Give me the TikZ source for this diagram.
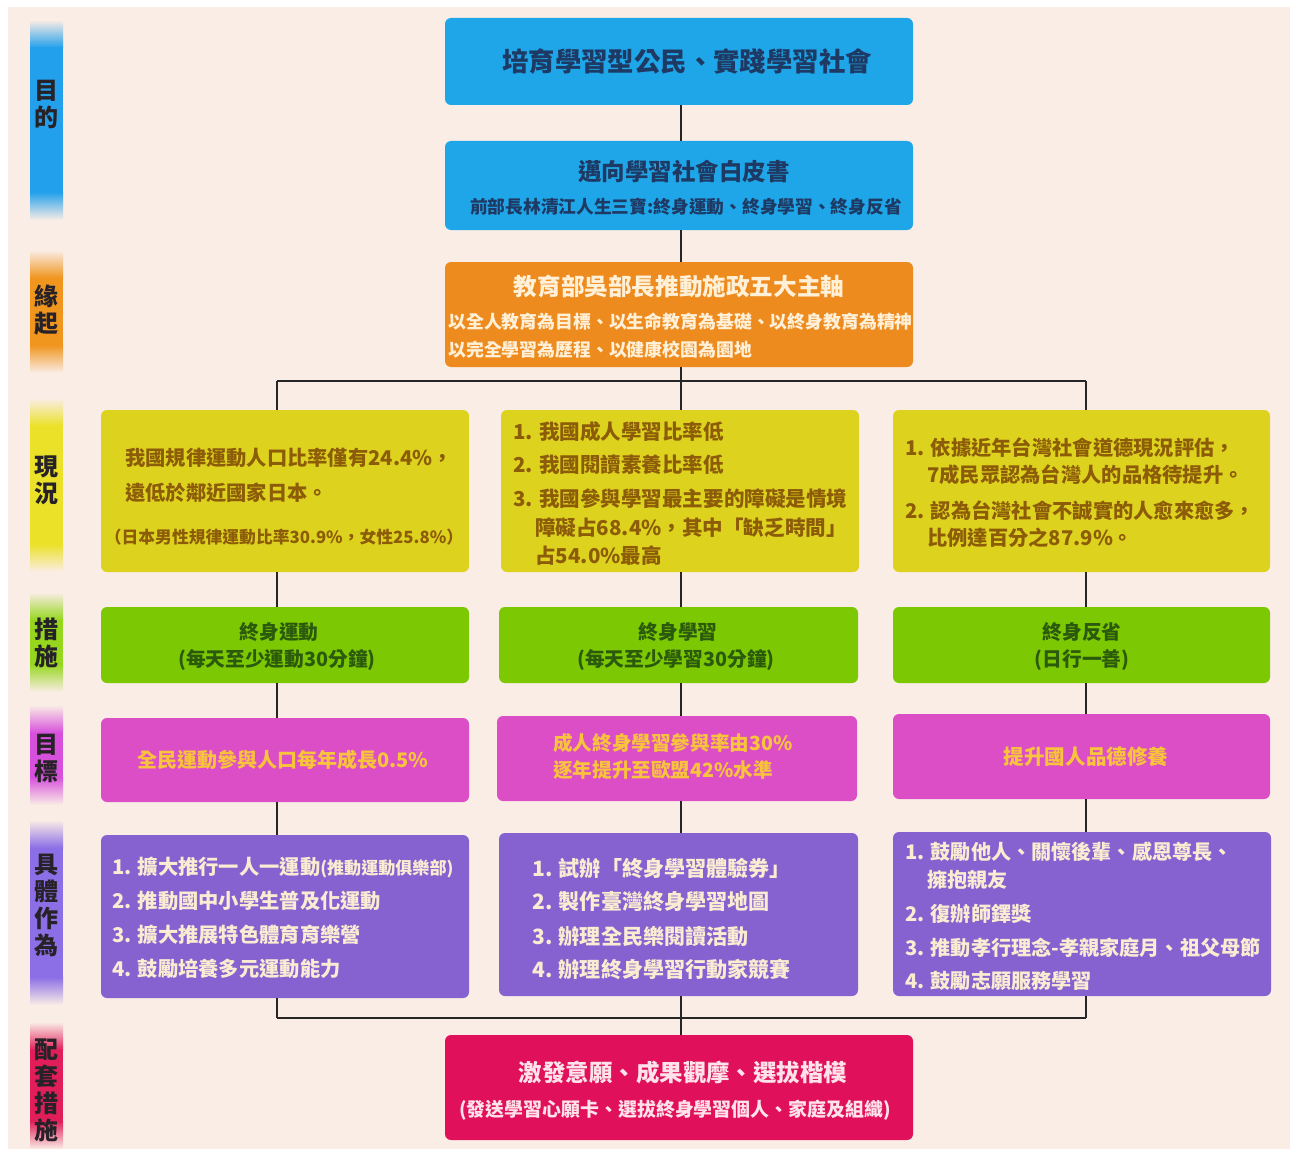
\documentclass[tikz,border=0pt]{standalone}
\usepackage{fontspec}
\setmainfont{Noto Sans CJK TC}
\usetikzlibrary{fit}
\definecolor{bg}{RGB}{250,237,230}
\definecolor{bluebox}{RGB}{30,166,232}
\definecolor{bluetxt}{RGB}{30,58,100}
\definecolor{orgbox}{RGB}{238,139,30}
\definecolor{orgtxt}{RGB}{255,240,215}
\definecolor{ylwbox}{RGB}{221,211,31}
\definecolor{ylwtxt}{RGB}{140,92,8}
\definecolor{grnbox}{RGB}{124,200,2}
\definecolor{grntxt}{RGB}{44,90,12}
\definecolor{magbox}{RGB}{220,78,198}
\definecolor{magtxt}{RGB}{248,196,60}
\definecolor{purbox}{RGB}{134,98,208}
\definecolor{purtxt}{RGB}{250,236,210}
\definecolor{redbox}{RGB}{224,16,90}
\definecolor{redtxt}{RGB}{255,226,234}
\definecolor{bandblue}{RGB}{35,160,235}
\definecolor{bandorg}{RGB}{240,150,30}
\definecolor{bandylw}{RGB}{235,225,40}
\definecolor{bandgrn}{RGB}{150,215,30}
\definecolor{bandmag}{RGB}{215,80,220}
\definecolor{bandpur}{RGB}{140,110,230}
\definecolor{bandred}{RGB}{225,30,90}
\definecolor{bandtxt}{RGB}{38,34,40}
\newcommand\fs[1]{\fontsize{#1pt}{\dimexpr #1pt*13/10\relax}\selectfont\bfseries}
\newcommand\myband[3]{%
  \shade[top color=bg,bottom color=#1] (30,#2) rectangle (63,{#2+28});
  \fill[#1] (30,{#2+27.5}) rectangle (63,{#3-27.5});
  \shade[top color=#1,bottom color=bg] (30,{#3-28}) rectangle (63,#3);}
\begin{document}
\begin{tikzpicture}[x=0.75pt,y=-0.75pt,
  box/.style={rectangle,rounded corners=4.5pt,inner sep=0pt,draw=none},
  conn/.style={line width=1.4pt,black!85},
  lw/.style={anchor=west,inner sep=0pt},
  ct/.style={anchor=center,inner sep=0pt},
  bt/.style={align=center,inner sep=0pt,text=bandtxt,font=\fontsize{18pt}{20.25pt}\selectfont\bfseries}]
\useasboundingbox (0,0) rectangle (1290,1149);
\fill[white] (0,0) rectangle (1290,1149);
\fill[bg] (8,7) rectangle (1290,1149);

% side bands
\myband{bandblue}{20}{220}
\myband{bandorg}{250}{373}
\myband{bandylw}{398}{572}
\myband{bandgrn}{592}{692}
\myband{bandmag}{705}{805}
\myband{bandpur}{820}{1005}
\myband{bandred}{1022}{1149}
\node[bt] (b1) at (47,104) {目\\的};
\node[bt] (b2) at (47,310) {緣\\起};
\node[bt] (b3) at (47,480) {現\\況};
\node[bt] (b4) at (47,643) {措\\施};
\node[bt] (b5) at (47,758) {目\\標};
\node[bt] (b6) at (47,905) {具\\體\\作\\為};
\node[bt] (b7) at (47,1090) {配\\套\\措\\施};

% boxes
\node[box,fill=bluebox,fit={(445,18) (913,105)}] (top) {};
\node[box,fill=bluebox,fit={(445,141) (913,230)}] (paper) {};
\node[box,fill=orgbox,fit={(445,262) (913,367)}] (org) {};
\node[box,fill=ylwbox,fit={(101,410) (469,572)}] (yl) {};
\node[box,fill=ylwbox,fit={(501,410) (859,572)}] (ym) {};
\node[box,fill=ylwbox,fit={(893,410) (1270,572)}] (yr) {};
\node[box,fill=grnbox,fit={(101,607) (469,683)}] (gl) {};
\node[box,fill=grnbox,fit={(499,607) (858,683)}] (gm) {};
\node[box,fill=grnbox,fit={(893,607) (1270,683)}] (gr) {};
\node[box,fill=magbox,fit={(101,718) (469,802)}] (ml) {};
\node[box,fill=magbox,fit={(497,716) (857,801)}] (mm) {};
\node[box,fill=magbox,fit={(893,714) (1270,799)}] (mr) {};
\node[box,fill=purbox,fit={(101,835) (469,998)}] (pl) {};
\node[box,fill=purbox,fit={(499,833) (858,996)}] (pm) {};
\node[box,fill=purbox,fit={(893,832) (1271,996)}] (pr) {};
\node[box,fill=redbox,fit={(445,1035) (913,1140)}] (red) {};

% junction coordinates
\coordinate (jtl) at (277,381);
\coordinate (jtm) at (681,381);
\coordinate (jtr) at (1086,381);
\coordinate (jbl) at (277,1018);
\coordinate (jbm) at (681,1018);
\coordinate (jbr) at (1086,1018);

% connectors
\draw[conn] (jtm |- top.south) -- (jtm |- paper.north);
\draw[conn] (jtm |- paper.south) -- (jtm |- org.north);
\draw[conn] (jtm |- org.south) -- (jtm |- ym.north);
\draw[conn] (jtl) -- (jtr);
\draw[conn] (jtl) -- (jtl |- yl.north);
\draw[conn] (jtr) -- (jtr |- yr.north);
\draw[conn] (jtl |- yl.south) -- (jtl |- gl.north);
\draw[conn] (jtm |- ym.south) -- (jtm |- gm.north);
\draw[conn] (jtr |- yr.south) -- (jtr |- gr.north);
\draw[conn] (jtl |- gl.south) -- (jtl |- ml.north);
\draw[conn] (jtm |- gm.south) -- (jtm |- mm.north);
\draw[conn] (jtr |- gr.south) -- (jtr |- mr.north);
\draw[conn] (jtl |- ml.south) -- (jtl |- pl.north);
\draw[conn] (jtm |- mm.south) -- (jtm |- pm.north);
\draw[conn] (jtr |- mr.south) -- (jtr |- pr.north);
\draw[conn] (jbl |- pl.south) -- (jbl);
\draw[conn] (jbr |- pr.south) -- (jbr);
\draw[conn] (jbl) -- (jbr);
\draw[conn] (jbm |- pm.south) -- (jbm |- red.north);

% texts: top
\node[ct,text=bluetxt,font=\fs{19.8}] (t0) at (687,61) {培育學習型公民、實踐學習社會};
\node[ct,text=bluetxt,font=\fs{17.6}] (t1) at (684,172) {邁向學習社會白皮書};
\node[ct,text=bluetxt,font=\fs{13.3}] (t2) at (686,207) {前部長林清江人生三寶:終身運動、終身學習、終身反省};
\node[ct,text=orgtxt,font=\fs{17.7}] (t3) at (679,287) {教育部吳部長推動施政五大主軸};
\node[lw,text=orgtxt,font=\fs{13.4}] (t4) at (448,322) {以全人教育為目標、以生命教育為基礎、以終身教育為精神};
\node[lw,text=orgtxt,font=\fs{13.4}] (t5) at (448,350) {以完全學習為歷程、以健康校園為園地};

% yellow
\node[lw,text=ylwtxt,font=\fs{15.2}] (y1) at (125,458) {我國規律運動人口比率僅有24.4\%，};
\node[lw,text=ylwtxt,font=\fs{15.2}] (y2) at (125,493) {遠低於鄰近國家日本。};
\node[ct,text=ylwtxt,font=\fs{12.6}] (y3) at (284,537) {（日本男性規律運動比率30.9\%，女性25.8\%）};
\node[lw,text=ylwtxt,font=\fs{15.4}] (y4) at (513,432) {1. 我國成人學習比率低};
\node[lw,text=ylwtxt,font=\fs{15.4}] (y5) at (513,465) {2. 我國閱讀素養比率低};
\node[lw,text=ylwtxt,font=\fs{15.4}] (y6) at (513,499) {3. 我國參與學習最主要的障礙是情境};
\node[lw,text=ylwtxt,font=\fs{15.4}] (y7) at (535,528) {障礙占68.4\%，其中「缺乏時間」};
\node[lw,text=ylwtxt,font=\fs{15.4}] (y8) at (535,556) {占54.0\%最高};
\node[lw,text=ylwtxt,font=\fs{15.2}] (y9) at (905,448) {1. 依據近年台灣社會道德現況評估，};
\node[lw,text=ylwtxt,font=\fs{15.2}] (y10) at (927,475) {7成民眾認為台灣人的品格待提升。};
\node[lw,text=ylwtxt,font=\fs{15.2}] (y11) at (905,511) {2. 認為台灣社會不誠實的人愈來愈多，};
\node[lw,text=ylwtxt,font=\fs{15.2}] (y12) at (927,538) {比例達百分之87.9\%。};

% green
\node[ct,text=grntxt,font=\fs{14.8}] (g1) at (279,632) {終身運動};
\node[ct,text=grntxt,font=\fs{14.8}] (g2) at (277,660) {(每天至少運動30分鐘)};
\node[ct,text=grntxt,font=\fs{14.8}] (g3) at (678,632) {終身學習};
\node[ct,text=grntxt,font=\fs{14.8}] (g4) at (676,660) {(每天至少學習30分鐘)};
\node[ct,text=grntxt,font=\fs{14.8}] (g5) at (1082,632) {終身反省};
\node[ct,text=grntxt,font=\fs{14.8}] (g6) at (1082,660) {(日行一善)};

% magenta
\node[ct,text=magtxt,font=\fs{15}] (m1) at (283,760) {全民運動參與人口每年成長0.5\%};
\node[lw,text=magtxt,font=\fs{14.7}] (m2) at (553,743) {成人終身學習參與率由30\%};
\node[lw,text=magtxt,font=\fs{14.7}] (m3) at (553,770) {逐年提升至歐盟42\%水準};
\node[ct,text=magtxt,font=\fs{15.4}] (m4) at (1086,757) {提升國人品德修養};

% purple
\node[lw,text=purtxt,font=\fs{15.2}] (p1) at (112,867) {1. 擴大推行一人一運動{\fs{12.8}(推動運動俱樂部)}};
\node[lw,text=purtxt,font=\fs{15.2}] (p2) at (112,901) {2. 推動國中小學生普及化運動};
\node[lw,text=purtxt,font=\fs{15.2}] (p3) at (112,935) {3. 擴大推展特色體育育樂營};
\node[lw,text=purtxt,font=\fs{15.2}] (p4) at (112,969) {4. 鼓勵培養多元運動能力};
\node[lw,text=purtxt,font=\fs{15.8}] (p5) at (532,868) {1. 試辦「終身學習體驗券」};
\node[lw,text=purtxt,font=\fs{15.8}] (p6) at (532,902) {2. 製作臺灣終身學習地圖};
\node[lw,text=purtxt,font=\fs{15.8}] (p7) at (532,936) {3. 辦理全民樂閱讀活動};
\node[lw,text=purtxt,font=\fs{15.8}] (p8) at (532,969) {4. 辦理終身學習行動家競賽};
\node[lw,text=purtxt,font=\fs{15.1}] (p9) at (905,852) {1. 鼓勵他人、關懷後輩、感恩尊長、};
\node[lw,text=purtxt,font=\fs{15.1}] (p10) at (927,880) {擁抱親友};
\node[lw,text=purtxt,font=\fs{15.1}] (p11) at (905,914) {2. 復辦師鐸獎};
\node[lw,text=purtxt,font=\fs{15.1}] (p12) at (905,948) {3. 推動孝行理念-孝親家庭月、祖父母節};
\node[lw,text=purtxt,font=\fs{15.1}] (p13) at (905,981) {4. 鼓勵志願服務學習};

% red
\node[ct,text=redtxt,font=\fs{17.6}] (r1) at (683,1073) {激發意願、成果觀摩、選拔楷模};
\node[ct,text=redtxt,font=\fs{14.2}] (r2) at (675,1110) {(發送學習心願卡、選拔終身學習個人、家庭及組織)};
\end{tikzpicture}
\end{document}
